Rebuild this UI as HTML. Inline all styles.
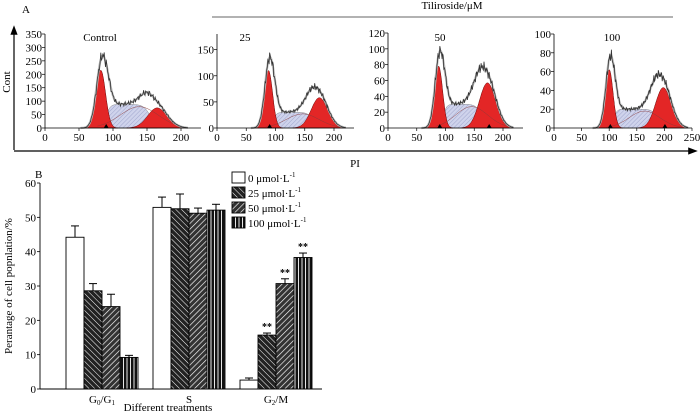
<!DOCTYPE html>
<html><head><meta charset="utf-8">
<style>
body{margin:0;background:#fff;}
svg{display:block;font-family:"Liberation Serif",serif;}
</style></head>
<body>
<svg id="fig" width="700" height="415" viewBox="0 0 700 415" xmlns="http://www.w3.org/2000/svg">
<defs>
<pattern id="hatchS" patternUnits="userSpaceOnUse" width="3" height="3" patternTransform="rotate(45)"><rect width="3" height="3" fill="#cfd3ec"/><line x1="0" y1="0" x2="0" y2="3" stroke="#8088b8" stroke-width="0.6"/></pattern>
<pattern id="p25" patternUnits="userSpaceOnUse" width="4" height="4" patternTransform="rotate(-45)"><rect width="4" height="4" fill="#222"/><line x1="0" y1="0" x2="0" y2="4" stroke="#fff" stroke-width="1"/></pattern>
<pattern id="p50" patternUnits="userSpaceOnUse" width="4" height="4" patternTransform="rotate(45)"><rect width="4" height="4" fill="#333"/><line x1="0" y1="0" x2="0" y2="4" stroke="#fff" stroke-width="1.3"/></pattern>
<pattern id="p100" patternUnits="userSpaceOnUse" width="3.5" height="4"><rect width="3.5" height="4" fill="#111"/><line x1="1" y1="0" x2="1" y2="4" stroke="#fff" stroke-width="0.9"/></pattern>
<marker id="arr" markerWidth="8" markerHeight="8" refX="4" refY="4" orient="auto"><path d="M0,1 L8,4 L0,7 z" fill="#000"/></marker>
</defs>
<g id="panelA"></g>
<g id="panelB"></g>
</svg>
<script>
// ---- Panel A data (flow cytometry fits) ----
const histLabels = ["Control","25","50","100"];
const g1Peak = [82, 88, 88, 100];
const g1Height = [215, 110, 78, 62];
const g2Peak = [165, 175, 173, 198];
const g2Height = [75, 58, 57, 43];
const sHeight = [88, 30, 30, 20];
const yMaxA = [350, 180, 120, 100];
const yTicksA = [[0,50,100,150,200,250,300,350],[0,50,100,150],[0,20,40,60,80,100,120],[0,20,40,60,80,100]];
const xTicksA = [[0,50,100,150,200],[0,50,100,150,200],[0,50,100,150,200],[0,50,100,150,200,250]];
// ---- Panel B data ----
const phases = ["G0/G1","S","G2/M"];
const seriesNames = ["0 μmol·L","25 μmol·L","50 μmol·L","100 μmol·L"];
const values = [[44.2,28.6,24.0,9.2],[52.9,52.5,51.2,52.1],[2.6,15.7,30.7,38.3]];
const errTops = [[47.5,30.7,27.6,9.8],[55.9,56.8,52.7,53.8],[3.2,16.3,32.1,39.6]];
const sig = [["","","",""],["","","",""],["","**","**","**"]];
const yTicksB = [0,10,20,30,40,50,60];

const NS="http://www.w3.org/2000/svg";
function mk(parent,tag,attrs,text){const e=document.createElementNS(NS,tag);for(const k in attrs)e.setAttribute(k,attrs[k]);if(text!==undefined)e.textContent=text;parent.appendChild(e);return e;}

const A=document.getElementById('panelA');
const geo=[{x0:45,x1:181,xr:200,yb:128,yt:34,lx:100},{x0:217,x1:334,xr:200,yb:128,yt:34,lx:245},{x0:388,x1:503,xr:200,yb:128,yt:33,lx:440},{x0:554,x1:692,xr:250,yb:128,yt:34,lx:612}];
let t;
t=mk(A,'text',{x:22,y:13,'font-size':11},'A');

let l=mk(A,'line',{x1:14,y1:150,x2:14,y2:30,stroke:'#000','stroke-width':1.2,'marker-end':'url(#arr)'});

l=mk(A,'line',{x1:14,y1:151,x2:693,y2:151,stroke:'#000','stroke-width':1.2,'marker-end':'url(#arr)'});

t=mk(A,'text',{x:0,y:0,'font-size':11,transform:'translate(10,82) rotate(-90)','text-anchor':'middle'},'Cont');

t=mk(A,'text',{x:355,y:167,'font-size':11,'text-anchor':'middle'},'PI');

l=mk(A,'line',{x1:212,y1:17,x2:673,y2:17,stroke:'#333','stroke-width':0.8});

t=mk(A,'text',{x:452,y:9,'font-size':11,'text-anchor':'middle'},'Tiliroside/μM');


function gauss(x,m,s){return Math.exp(-0.5*((x-m)/s)**2);}
function lg(z){return 1/(1+Math.exp(-z));}
histLabels.forEach((lab,i)=>{
  const g=geo[i];
  const grp=mk(A,'g',{});
  
  
  const xs=v=>g.x0+(g.x1-g.x0)*v/g.xr;
  const ys=v=>g.yb-(g.yb-g.yt)*v/yMaxA[i];
  const s1=7, s2=14;
  const G1=x=>g1Height[i]*gauss(x,g1Peak[i],s1);
  const G2=x=>g2Height[i]*gauss(x,g2Peak[i],s2);
  const S=x=>sHeight[i]*lg((x-(g1Peak[i]+8))/3)*lg(((g2Peak[i]-10)-x)/5);
  const area=(f,a,b)=>{let d='M'+xs(a)+','+ys(0);for(let x=a;x<=b;x+=0.5)d+=' L'+xs(x).toFixed(1)+','+ys(f(x)).toFixed(1);d+=' L'+xs(b)+','+ys(0)+' Z';return d;};
  let p=mk(grp,'path',{d:area(S,g1Peak[i],g2Peak[i]),fill:'url(#hatchS)',stroke:'#777','stroke-width':0.5});
  
  p=mk(grp,'path',{d:area(G1,g1Peak[i]-25,g1Peak[i]+25),fill:'#e32626',stroke:'#600','stroke-width':0.5});
  
  p=mk(grp,'path',{d:area(G2,g2Peak[i]-45,g2Peak[i]+45),fill:'#e32626',stroke:'#600','stroke-width':0.5});
  
  let d='';
  for(let x=g1Peak[i]-5;x<=g2Peak[i]+35;x+=1){d+=(d?' L':'M')+xs(x).toFixed(1)+','+ys(0.9*sHeight[i]*gauss(x,(g1Peak[i]+g2Peak[i])/2+15,28)).toFixed(1);}
  p=mk(grp,'path',{d:d,fill:'none',stroke:'#8a3a3a','stroke-width':0.5});
  
  const tot=x=>1.2*g1Height[i]*gauss(x,g1Peak[i]+2,8)+S(x)+1.2*g2Height[i]*gauss(x,g2Peak[i]-3,16);
  let env='',raw='';
  for(let x=g1Peak[i]-30;x<=g2Peak[i]+45;x+=1){
    env+=(env?' L':'M')+xs(x).toFixed(1)+','+ys(tot(x)).toFixed(1);
    const j=tot(x)*(1+0.1*Math.sin(x*2.7)*Math.cos(x*1.3));
    raw+=(raw?' L':'M')+xs(x).toFixed(1)+','+ys(j).toFixed(1);
  }
  p=mk(grp,'path',{d:env,fill:'none',stroke:'#bbb','stroke-width':2.2});
  
  p=mk(grp,'path',{d:raw,fill:'none',stroke:'#333','stroke-width':0.8});
  
  l=mk(grp,'line',{x1:g.x0,y1:g.yb,x2:g.x0,y2:g.yt,stroke:'#000','stroke-width':0.8});
  
  const xend=xs(g.xr)+(i===3?0:20);
  l=mk(grp,'line',{x1:g.x0,y1:g.yb,x2:xend,y2:g.yb,stroke:'#000','stroke-width':0.8});
  
  yTicksA[i].forEach(v=>{
    mk(grp,'line',{x1:g.x0-3,y1:ys(v),x2:g.x0,y2:ys(v),stroke:'#000','stroke-width':0.7});
    t=mk(grp,'text',{x:g.x0-3,y:ys(v)+4,'font-size':11,'text-anchor':'end'},String(v));
    
  });
  xTicksA[i].forEach(v=>{
    mk(grp,'line',{x1:xs(v),y1:g.yb,x2:xs(v),y2:g.yb+3,stroke:'#000','stroke-width':0.7});
    t=mk(grp,'text',{x:xs(v),y:g.yb+13,'font-size':11,'text-anchor':'middle'},String(v));
    
  });
  [g1Peak[i]+(i===0?8:2), g2Peak[i]+3].forEach((m,k)=>{ if(i<2&&k===1)return;
    const c=xs(m);mk(grp,'path',{d:`M${c-2.5},${g.yb} L${c+2.5},${g.yb} L${c},${g.yb-4} Z`,fill:'#000'});});
  t=mk(grp,'text',{x:g.lx,y:41,'font-size':11,'text-anchor':'middle'},lab);
  
});

// ---- Panel B ----
const B=document.getElementById('panelB');
const y0=389, yTop=183, yMaxB=60, axX=40;
const yB=v=>y0-(y0-yTop)*v/yMaxB;
const groupStart=[66,153,240], barW=18;
const fills=['#fff','url(#p25)','url(#p50)','url(#p100)'];
t=mk(B,'text',{x:35,y:178,'font-size':11},'B');

l=mk(B,'line',{x1:axX,y1:y0,x2:axX,y2:yTop,stroke:'#000','stroke-width':0.9});

l=mk(B,'line',{x1:axX,y1:y0,x2:322,y2:y0,stroke:'#000','stroke-width':0.9});

yTicksB.forEach(v=>{
  mk(B,'line',{x1:axX-3,y1:yB(v),x2:axX,y2:yB(v),stroke:'#000','stroke-width':0.8});
  t=mk(B,'text',{x:axX-4,y:yB(v)+4,'font-size':11,'text-anchor':'end'},String(v));
  
});
t=mk(B,'text',{x:0,y:0,'font-size':11,transform:'translate(12,286) rotate(-90)','text-anchor':'middle'},'Perantage of cell popnlation/%');

t=mk(B,'text',{x:168,y:411,'font-size':11,'text-anchor':'middle'},'Different treatments');

const subs=[['G','0','/G','1'],['S'],['G','2','/M']];
phases.forEach((ph,gi)=>{
  const cx=groupStart[gi]+barW*2;
  const tx=mk(B,'text',{x:cx,y:403,'font-size':11,'text-anchor':'middle'});
  
  subs[gi].forEach((s,k)=>{const ts=mk(tx,'tspan',{},s); if(k%2===1){ts.setAttribute('font-size','7');ts.setAttribute('dy','2');} else if(k>0){ts.setAttribute('dy','-2');}});
  values[gi].forEach((v,si)=>{
    const x=groupStart[gi]+si*barW;
    const e=errTops[gi][si];
    const el=mk(B,'line',{x1:x+barW/2,y1:yB(v),x2:x+barW/2,y2:yB(e),stroke:'#000','stroke-width':1});
    
    mk(B,'line',{x1:x+barW/2-4,y1:yB(e),x2:x+barW/2+4,y2:yB(e),stroke:'#000','stroke-width':1});
    const r=mk(B,'rect',{x:x,y:yB(v),width:barW,height:y0-yB(v),fill:fills[si],stroke:'#000','stroke-width':0.9});
    
    
    if(sig[gi][si]){const st=mk(B,'text',{x:x+barW/2,y:yB(e)-3,'font-size':10,'text-anchor':'middle','font-weight':'bold'},sig[gi][si]);
      }
  });
});
seriesNames.forEach((n,si)=>{
  const y=172+si*15;
  const r=mk(B,'rect',{x:232,y:y,width:13,height:11,fill:fills[si],stroke:'#000','stroke-width':0.9});
  
  const tx=mk(B,'text',{x:248,y:y+10,'font-size':11},n);
  
  mk(tx,'tspan',{dy:'-5','font-size':7},'-1');
});
</script>
</body></html>
